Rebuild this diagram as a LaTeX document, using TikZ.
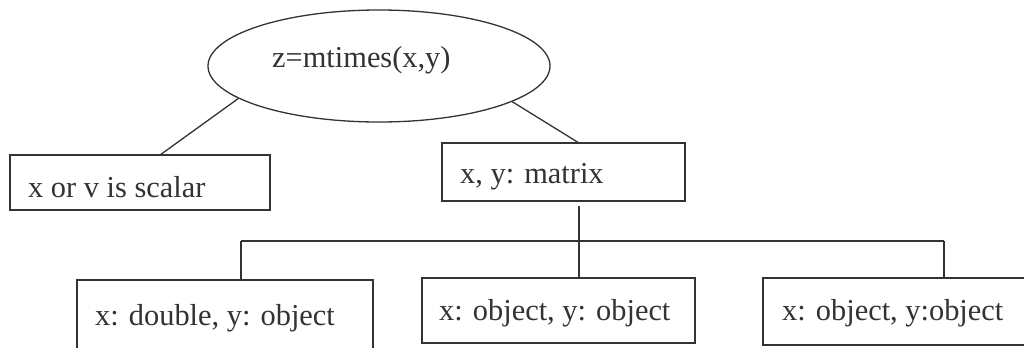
\documentclass[tikz,border=0pt]{standalone}
\usepackage{fontspec}
\setmainfont{Liberation Serif}
\usetikzlibrary{shapes.geometric,calc}
\definecolor{ink}{HTML}{333333}
\tikzset{
  wire/.style={draw=ink, line width=1.3bp},
  box/.style={draw=ink, line width=1.3bp, rectangle, inner sep=0pt, fill=white},
  lbl/.style={anchor=base west, inner sep=0pt, text=ink, font=\fontsize{30.5}{36}\selectfont},
}
\begin{document}
\begin{tikzpicture}[x=1bp,y=-1bp]
  \useasboundingbox (0,0) rectangle (1024,347);
  \clip (0,0) rectangle (1024,347);

  % root
  \node[ellipse, draw=ink, line width=1.3bp, inner sep=0pt,
        minimum width=342bp, minimum height=112bp] (root) at (379,66) {};
  \node[lbl] (rootT) at (272,67) {z=mtimes(x,y)};

  % second level
  \node[box, minimum width=260bp, minimum height=55bp] (scalar) at (140,182.5) {};
  \node[lbl] (scalarT) at (28,197) {x or v is scalar};
  \node[box, minimum width=243bp, minimum height=58bp] (matrix) at (563.5,172) {};
  \node[lbl] (matrixT) at (460,183) {x, y: matrix};

  % third level
  \node[box, minimum width=296bp, minimum height=80bp] (dbl) at (225,320) {};
  \node[lbl] (dblT) at (95,325) {x: double, y: object};
  \node[box, minimum width=273bp, minimum height=65bp] (oo) at (558.5,310.5) {};
  \node[lbl] (ooT) at (439,320) {x: object, y: object};
  \node[box, minimum width=277bp, minimum height=67bp] (oo2) at (901.5,311.5) {};
  \node[lbl] (oo2T) at (782,320) {x: object, y:object};

  % connectors from the root
  \coordinate (sTop) at (160,155);
  \coordinate (mTop) at (579,143);
  \draw[wire] (root.193.6) -- (sTop);
  \draw[wire] (root.345.8) -- (mTop);

  % bus to the third level
  \coordinate (mBot) at (579,206);
  \coordinate (busL) at (241,241);
  \coordinate (busM) at (579,241);
  \coordinate (busR) at (944,241);
  \draw[wire] (mBot) -- (busM);
  \draw[wire] (busL) -- (busR);
  \draw[wire] (busL) -- (busL |- dbl.north);
  \draw[wire] (busM) -- (busM |- oo.north);
  \draw[wire] (busR) -- (busR |- oo2.north);
\end{tikzpicture}
\end{document}
